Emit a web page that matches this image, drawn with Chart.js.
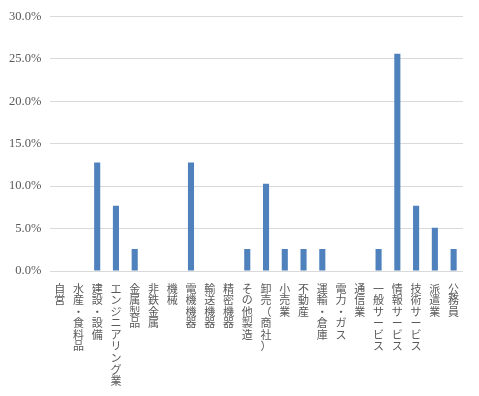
<!DOCTYPE html>
<html lang="ja">
<head>
    <meta charset="UTF-8">
    <title>業種別割合</title>
    <script src="https://cdn.jsdelivr.net/npm/chart.js"></script>
    <style>
        html, body { margin: 0; padding: 0; background: #fff; }
        .chart-container { width: 479px; height: 396px; }
    </style>
</head>
<body>
    <div class="chart-container">
        <canvas id="barChart"></canvas>
    </div>
    <script>
        const categories = ['自営', '水産・食料品', '建設・設備', 'エンジニアリング業', '金属製品', '非鉄金属', '機械',
            '電機機器', '輸送機器', '精密機器', 'その他製造', '卸売（商社）', '小売業', '不動産', '運輸・倉庫',
            '電力・ガス', '通信業', '一般サービス', '情報サービス', '技術サービス', '派遣業', '公務員'];
        const shares = [0, 0, 12.8, 7.7, 2.6, 0, 0, 12.8, 0, 0, 2.6, 10.3, 2.6, 2.6, 2.6,
            0, 0, 2.6, 25.6, 7.7, 5.1, 2.6];
        const yTicks = [0, 5, 10, 15, 20, 25, 30];

        const fontFamily = '"Liberation Serif", "Noto Sans CJK JP", serif';

        new Chart(document.getElementById('barChart').getContext('2d'), {
            type: 'bar',
            data: {
                // vertical labels: one character per line
                labels: categories.map(c => c.split('')),
                datasets: [{
                    data: shares,
                    backgroundColor: '#4F81BD',
                    barPercentage: 0.65,
                    categoryPercentage: 0.5
                }]
            },
            options: {
                responsive: true,
                maintainAspectRatio: false,
                animation: false,
                layout: { padding: { top: 5, right: 16, left: 0, bottom: 3 } },
                plugins: { legend: { display: false }, tooltip: { enabled: false } },
                scales: {
                    x: {
                        grid: { display: false },
                        border: { display: false },
                        ticks: {
                            autoSkip: false,
                            maxRotation: 0,
                            minRotation: 0,
                            padding: 5,
                            color: '#595959',
                            font: { family: fontFamily, size: 11, lineHeight: 1.05 }
                        }
                    },
                    y: {
                        min: 0,
                        max: 30,
                        afterBuildTicks: axis => { axis.ticks = yTicks.map(v => ({ value: v })); },
                        grid: { color: '#D9D9D9', lineWidth: 1, drawTicks: false },
                        border: { display: false },
                        ticks: {
                            padding: 9,
                            color: '#595959',
                            font: { family: fontFamily, size: 12.5 },
                            callback: v => v.toFixed(1) + '%'
                        }
                    }
                }
            }
        });
    </script>
</body>
</html>
